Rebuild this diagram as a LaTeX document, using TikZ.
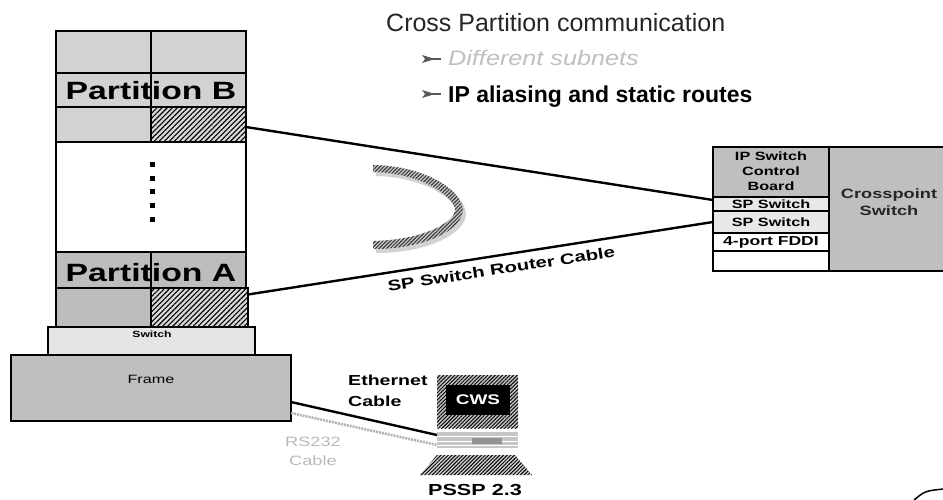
\documentclass[tikz,border=0pt]{standalone}
\usepackage{fontspec}
\setmainfont{Liberation Sans}
\newfontfamily\widesans[FakeStretch=1.35]{Liberation Sans}
\newfontfamily\midsans[FakeStretch=1.2]{Liberation Sans}
\usetikzlibrary{fit,patterns.meta,calc}

\begin{document}
\begin{tikzpicture}[x=1pt,y=-1pt,
  cell/.style={draw=black, line width=1.2pt, inner sep=0pt, outer sep=0pt},
  lightdot/.style={cell, fill=gray!35},
  densedot/.style={cell, fill=gray!52},
  checker/.style={cell, fill=gray!50},
  pale/.style={cell, fill=gray!18},
  blank/.style={cell, fill=white},
  hatch/.style={cell, fill=gray!30,
    postaction={pattern={Lines[angle=45,distance=3.6pt,line width=1.1pt]}, pattern color=black}},
  cable/.style={draw=black, line width=2.4pt},
  serial/.style={draw=gray!60, line width=2.6pt, dash pattern=on 2pt off 1pt},
  bigbold/.style={font=\widesans\bfseries\fontsize{25}{30}\selectfont, inner sep=0pt},
  tag/.style={font=\widesans\bfseries\fontsize{12}{15}\selectfont, inner sep=0pt, align=center},
  bullet/.style={fill=black!65}
]
\useasboundingbox (0,0) rectangle (943,499);

% ---- heading and bullet points
\node[anchor=base west, inner sep=0pt, text=black!85,
      font=\fontsize{25}{30}\selectfont] (title) at (386,31) {Cross Partition communication};
\node[anchor=base west, inner sep=0pt, text=gray!50,
      font=\midsans\itshape\fontsize{21}{25}\selectfont] (pt1) at (448,65) {Different subnets};
\node[anchor=base west, inner sep=0pt, text=black,
      font=\bfseries\fontsize{23}{28}\selectfont] (pt2) at (448,102) {IP aliasing and static routes};
\foreach \yy in {59,94}{
  \fill[bullet] (422,\yy-4) -- (435,\yy) -- (422,\yy+4) -- (425,\yy) -- cycle;
  \draw[black!65, line width=1.2pt] (432,\yy) -- (441,\yy);
}

% ---- partition tower
\node[lightdot, fit={(56,31) (151,73)}]   (b11) {};
\node[lightdot, fit={(151,31) (246,73)}]  (b12) {};
\node[lightdot, fit={(56,73) (151,107)}]  (b21) {};
\node[lightdot, fit={(151,73) (246,107)}] (b22) {};
\node[lightdot, fit={(56,107) (151,142)}] (b31) {};
\node[hatch,    fit={(151,107) (246,142)}] (bhat) {};
\node[blank,    fit={(56,142) (246,252)}]  (gap) {};
\node[densedot, fit={(56,252) (151,288)}]  (a11) {};
\node[densedot, fit={(151,252) (246,288)}] (a12) {};
\node[densedot, fit={(56,288) (151,327)}]  (a21) {};
\node[hatch,    fit={(151,288) (248,327)}] (ahat) {};
\node[cell, fill=gray!20, fit={(48,327) (255,355)}] (switch) {};
\node[checker, fit={(11,355) (291,421)}] (frame) {};

\node[bigbold] (plabB) at (151,91) {Partition B};
\node[bigbold] (plabA) at (151,273) {Partition A};
\foreach \yy in {164,178,191,205,219}
  \fill (149.5,\yy-2.5) rectangle ++(5,5);
\node[inner sep=0pt, font=\widesans\bfseries\fontsize{9}{11}\selectfont] (swlab) at (152,334) {Switch};
\node[inner sep=0pt, font=\widesans\fontsize{12}{14}\selectfont] (frlab) at (151,379) {Frame};

% ---- IP switch unit
\node[checker, fit={(713,147) (829,197)}] (ctrl) {};
\node[pale,    fit={(713,197) (829,211)}] (sp1) {};
\node[pale,    fit={(713,211) (829,233)}] (sp2) {};
\node[blank,   fit={(713,233) (829,251)}] (fddi) {};
\node[blank,   fit={(713,251) (829,271)}] (spare) {};
\node[checker, fit={(829,147) (950,271)}] (cross) {};
\node[tag] (ctrllab) at (771,171) {IP Switch\\Control\\Board};
\node[tag] (sp1lab) at (771,204.5) {SP Switch};
\node[tag] (sp2lab) at (771,222.5) {SP Switch};
\node[tag, font=\widesans\bfseries\fontsize{13}{15}\selectfont] (fddilab) at (771,242.5) {4-port FDDI};
\node[tag, text=black!85, font=\widesans\bfseries\fontsize{13.5}{17}\selectfont] (crosslab) at (889,202) {Crosspoint\\Switch};

% ---- router cables
\draw[cable] ([yshift=-2.5pt]bhat.east) -- ([yshift=4pt]sp1.west);
\draw[cable] ([yshift=13pt]ahat.east) -- (sp2.west)
  node[pos=0.54, sloped, below=7pt, inner sep=0pt,
       font=\widesans\bfseries\fontsize{15}{18}\selectfont] (rclab) {SP Switch Router Cable};

% ---- round-trip crescent: shadow band, then hatched band
\fill[gray!35, shift={(3,4)}]
  (373,165) .. controls (428,166) and (463,192) .. (463,210)
  .. controls (463,228) and (428,249) .. (373,249)
  -- (373,241) .. controls (424,240) and (455,222) .. (455,210)
  .. controls (455,198) and (424,173) .. (373,172) -- cycle;
\fill[gray!45, postaction={pattern={Lines[angle=45,distance=2.6pt,line width=1pt]}, pattern color=black!80}]
  (373,165) .. controls (428,166) and (463,192) .. (463,210)
  .. controls (463,228) and (428,249) .. (373,249)
  -- (373,241) .. controls (424,240) and (455,222) .. (455,210)
  .. controls (455,198) and (424,173) .. (373,172) -- cycle;

% ---- control workstation
\node[inner sep=0pt, outer sep=0pt, fill=gray!50,
      postaction={pattern={Lines[angle=45,distance=2.6pt,line width=0.9pt]}, pattern color=black},
      fit={(437,375) (518,428)}] (monitor) {};
\node[inner sep=0pt, fill=black, fit={(446,385) (510,415)}] (screen) {};
\node[inner sep=0pt, text=white, font=\widesans\bfseries\fontsize{14}{16}\selectfont] (cwslab) at (screen.center) {CWS};
\node[inner sep=0pt, outer sep=0pt, fill=gray!45, fit={(437,432) (518,448)}] (sysunit) {};
\foreach \yy in {436.5,441,445}
  \draw[white, line width=0.8pt] (437,\yy) -- (518,\yy);
\fill[gray!85] (472,437.5) rectangle (502,443.5);
\path[fill=gray!35, postaction={pattern={Lines[angle=45,distance=2.6pt,line width=1pt]}, pattern color=black}]
  (437,455) -- (515,455) -- (532,475) -- (420,475) -- cycle;
\node[inner sep=0pt, font=\widesans\bfseries\fontsize{16}{18}\selectfont] (pssp) at (475,490) {PSSP 2.3};

% ---- frame to workstation cables
\draw[cable] ([yshift=-14pt]frame.east) -- ([yshift=5pt]sysunit.west);
\draw[serial] ([yshift=-25pt]frame.east) -- ([yshift=-5pt]sysunit.west);
\node[anchor=north west, inner sep=0pt, align=left,
      font=\widesans\bfseries\fontsize{14.5}{21}\selectfont] (ethlab) at (348,375) {Ethernet\\Cable};
\node[anchor=north, inner sep=0pt, align=center, text=gray!55,
      font=\widesans\fontsize{13.5}{19}\selectfont] (rslab) at (313,436.5) {RS232\\Cable};

% ---- arc at the lower right corner
\draw[line width=1.5pt] (914,500) .. controls (925,491) .. (943,489);
\end{tikzpicture}
\end{document}
